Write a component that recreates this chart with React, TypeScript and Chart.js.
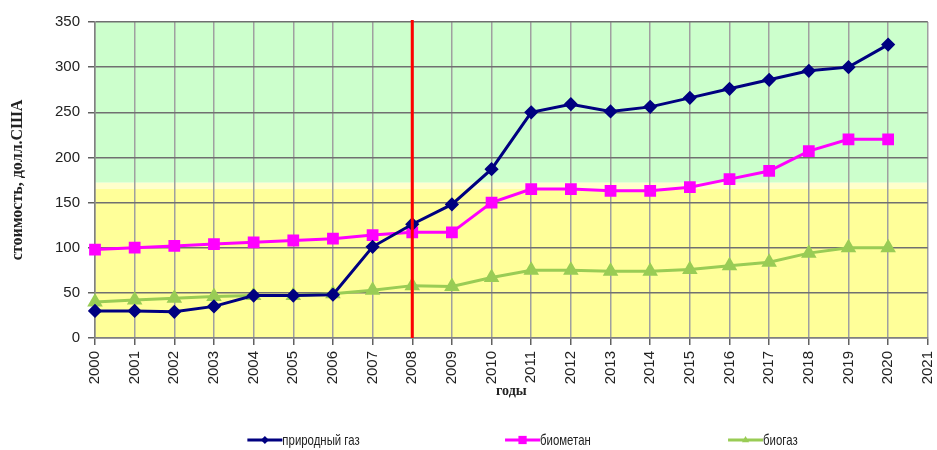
import React, { useEffect, useRef } from "react";
import { Chart, registerables } from "chart.js";

Chart.register(...registerables);

const years = ["2000","2001","2002","2003","2004","2005","2006","2007","2008","2009","2010","2011","2012","2013","2014","2015","2016","2017","2018","2019","2020","2021"];
const naturalGas = [30, 30, 29, 35, 47, 47, 48, 101, 126, 148, 187, 250, 259, 251, 256, 266, 276, 286, 296, 300, 325];
const biomethane = [98, 100, 102, 104, 106, 108, 110, 114, 117, 117, 150, 165, 165, 163, 163, 167, 176, 185, 207, 220, 220];
const biogas = [40, 42, 44, 46, 47, 47, 49, 53, 58, 57, 67, 75, 75, 74, 74, 76, 80, 84, 94, 100, 100];
const seriesNames = ["природный газ", "биометан", "биогаз"];
const markerYear = "2008";
const greenFrom = 172;
const yellowTo = 165;

const colors = ["#000080", "#ff00ff", "#99cc55"];
const styles: any[] = ["rectRot", "rect", "triangle"];
const radii = [5, 6.2, 6];

const bgPlugin = {
  id: "bgBands",
  beforeDraw(chart: any) {
    const { ctx, chartArea: a, scales } = chart;
    const y = scales.y;
    const yg = y.getPixelForValue(greenFrom);
    const yy = y.getPixelForValue(yellowTo);
    ctx.save();
    ctx.fillStyle = "#ccffcc";
    ctx.fillRect(a.left, a.top, a.right - a.left, yg - a.top);
    ctx.fillStyle = "#ffffcc";
    ctx.fillRect(a.left, yg, a.right - a.left, yy - yg);
    ctx.fillStyle = "#ffff99";
    ctx.fillRect(a.left, yy, a.right - a.left, a.bottom - yy);
    ctx.restore();
  },
  afterDatasetsDraw(chart: any) {
    const { ctx, chartArea: a, scales } = chart;
    const x = scales.x.getPixelForValue(years.indexOf(markerYear));
    ctx.save();
    ctx.strokeStyle = "#ff0000";
    ctx.lineWidth = 3;
    ctx.beginPath();
    ctx.moveTo(x, a.top - 2);
    ctx.lineTo(x, a.bottom);
    ctx.stroke();
    ctx.restore();
  },
};

function marker(ctx: CanvasRenderingContext2D, style: string, x: number, y: number, r: number) {
  ctx.beginPath();
  if (style === "rectRot") {
    ctx.moveTo(x, y - r);
    ctx.lineTo(x + r, y);
    ctx.lineTo(x, y + r);
    ctx.lineTo(x - r, y);
  } else if (style === "rect") {
    ctx.rect(x - r * 0.75, y - r * 0.75, r * 1.5, r * 1.5);
  } else {
    ctx.moveTo(x, y - r);
    ctx.lineTo(x + r * 0.9, y + r * 0.55);
    ctx.lineTo(x - r * 0.9, y + r * 0.55);
  }
  ctx.closePath();
  ctx.fill();
}

const legendPlugin = {
  id: "customLegend",
  afterDraw(chart: any) {
    const { ctx, width } = chart;
    const starts = [0.264, 0.539, 0.777];
    const yc = 440;
    ctx.save();
    chart.data.datasets.forEach((ds: any, i: number) => {
      const x0 = width * starts[i];
      ctx.strokeStyle = ds.borderColor;
      ctx.lineWidth = 3;
      ctx.beginPath();
      ctx.moveTo(x0, yc);
      ctx.lineTo(x0 + 35, yc);
      ctx.stroke();
      ctx.fillStyle = ds.pointBackgroundColor;
      marker(ctx, ds.pointStyle, x0 + 17.5, yc, i === 1 ? 5.5 : 4);
      ctx.save();
      ctx.translate(x0 + 35, yc + 1);
      ctx.scale(0.76, 1);
      ctx.fillStyle = "#222";
      ctx.font = "15px 'Liberation Sans', Arial, sans-serif";
      ctx.textBaseline = "middle";
      ctx.textAlign = "left";
      ctx.fillText(ds.label, 0, 0);
      ctx.restore();
    });
    ctx.restore();
  },
};

export default function App() {
  const ref = useRef<HTMLCanvasElement>(null);
  useEffect(() => {
    document.body.style.margin = "0";
    const ctx = ref.current!.getContext("2d")!;
    const all = [naturalGas, biomethane, biogas];
    const chart = new Chart(ctx, {
      type: "line",
      data: {
        labels: years,
        datasets: all.map((d, i) => ({
          label: seriesNames[i],
          data: d,
          borderColor: colors[i],
          backgroundColor: colors[i],
          pointBackgroundColor: colors[i],
          pointBorderColor: colors[i],
          pointStyle: styles[i],
          pointRadius: radii[i],
          pointHoverRadius: radii[i],
          borderWidth: 3,
          tension: 0,
          fill: false,
        })),
      },
      options: {
        animation: false,
        responsive: false,
        devicePixelRatio: 1,
        layout: { padding: { left: 0, right: 5, top: 22, bottom: 50 } },
        plugins: { legend: { display: false }, tooltip: { enabled: false } },
        scales: {
          x: {
            type: "category",
            offset: false,
            grid: { color: "#a0a0a0", lineWidth: 1.5, tickLength: 7, tickColor: "#606060" },
            border: { color: "#808080", width: 1.5 },
            ticks: {
              autoSkip: false,
              minRotation: 90,
              maxRotation: 90,
              padding: 6,
              color: "#222",
              font: { family: "'Liberation Sans', Arial, sans-serif", size: 15 },
            },
            title: {
              display: true,
              text: "годы",
              color: "#222",
              padding: { top: 0, bottom: 0 },
              font: { family: "'Liberation Serif', 'Times New Roman', serif", size: 14, weight: "bold" },
            },
            afterFit(s: any) {
              s.height = 62;
              s.paddingRight = 0;
              s.paddingLeft = 0;
              if (s._margins) { s._margins.right = 0; s._margins.left = 0; }
            },
          },
          y: {
            min: 0,
            max: 350,
            grid: { color: "#707070", lineWidth: 1.5, tickLength: 7, tickColor: "#606060" },
            border: { color: "#808080", width: 1.5 },
            ticks: {
              stepSize: 50,
              padding: 8,
              color: "#222",
              font: { family: "'Liberation Sans', Arial, sans-serif", size: 15 },
            },
            title: {
              display: true,
              text: "стоимость, долл.США",
              color: "#222",
              padding: { top: 8, bottom: 0 },
              font: { family: "'Liberation Serif', 'Times New Roman', serif", size: 16, weight: "bold" },
            },
            afterFit(s: any) { s.width = 95; s.paddingTop = 0; s.paddingBottom = 0; },
          },
        },
      },
      plugins: [bgPlugin, legendPlugin],
    } as any);
    return () => chart.destroy();
  }, []);
  return (
    <div style={{ position: "absolute", left: 0, top: 0, width: 937, height: 450, background: "#fff" }}>
      <canvas ref={ref} width={937} height={450} style={{ width: 937, height: 450, display: "block" }} />
    </div>
  );
}
